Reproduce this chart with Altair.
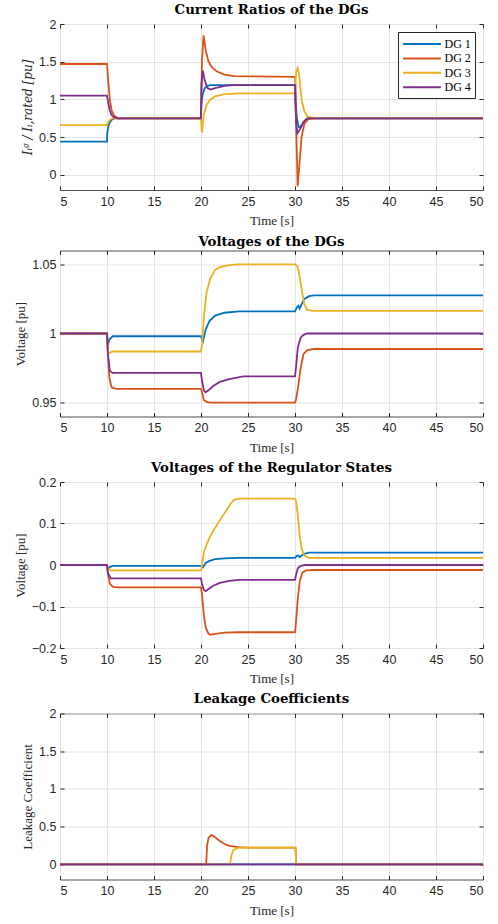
import altair as alt
import pandas as pd

SERIES = ["DG 1", "DG 2", "DG 3", "DG 4"]
COLORS = ["#0072BD", "#D95319", "#EDB120", "#7E2F8E"]

# ---- Panel 1: current ratios ----
p1_t1 = [5, 10, 10.02, 10.15, 10.3, 10.5, 10.8, 20, 20.05, 20.2, 20.4, 20.7, 21, 30, 30.05, 30.2, 30.4, 30.6, 30.9, 31.3, 50]
p1_v1 = [0.44, 0.44, 0.55, 0.65, 0.7, 0.73, 0.75, 0.75, 0.95, 1.08, 1.15, 1.18, 1.19, 1.19, 1.0, 0.75, 0.63, 0.64, 0.7, 0.75, 0.75]
p1_t2 = [5, 10, 10.1, 10.3, 10.5, 10.8, 11.2, 20, 20.1, 20.27, 20.5, 20.8, 21.2, 21.7, 22.5, 23.5, 30, 30.05, 30.15, 30.28, 30.45, 30.7, 31, 31.4, 32, 50]
p1_v2 = [1.47, 1.47, 1.3, 1.0, 0.85, 0.78, 0.75, 0.75, 1.5, 1.85, 1.65, 1.5, 1.42, 1.37, 1.33, 1.31, 1.30, 1.2, 0.5, -0.15, 0.1, 0.5, 0.68, 0.74, 0.75, 0.75]
p1_t3 = [5, 10, 10.05, 10.3, 10.6, 20, 20.05, 20.1, 20.3, 20.6, 21, 21.5, 22.5, 24, 30, 30.05, 30.15, 30.28, 30.45, 30.7, 31, 31.3, 32, 50]
p1_v3 = [0.66, 0.66, 0.68, 0.73, 0.75, 0.75, 0.62, 0.56, 0.8, 0.93, 1.0, 1.04, 1.07, 1.08, 1.08, 1.25, 1.38, 1.42, 1.32, 1.0, 0.84, 0.78, 0.755, 0.75]
p1_t4 = [5, 10, 10.1, 10.3, 10.5, 10.8, 11.2, 20, 20.05, 20.2, 20.4, 20.7, 21, 21.5, 22.5, 23.5, 30, 30.05, 30.15, 30.25, 30.6, 30.9, 31.3, 50]
p1_v4 = [1.05, 1.05, 0.98, 0.85, 0.79, 0.76, 0.75, 0.75, 1.2, 1.38, 1.25, 1.15, 1.13, 1.15, 1.18, 1.19, 1.19, 0.9, 0.65, 0.55, 0.62, 0.7, 0.75, 0.75]

# ---- Panel 2: voltages of the DGs ----
p2_t1 = [5, 10, 10.1, 10.3, 10.6, 20, 20.1, 20.2, 20.5, 20.9, 21.5, 22.5, 24, 30, 30.2, 30.35, 30.5, 30.7, 31, 31.5, 32, 50]
p2_v1 = [1.0, 1.0, 0.992, 0.996, 0.998, 0.998, 0.996, 0.994, 1.003, 1.009, 1.013, 1.015, 1.016, 1.016, 1.019, 1.020, 1.018, 1.021, 1.025, 1.027, 1.0275, 1.0275]
p2_t2 = [5, 10, 10.1, 10.25, 10.5, 11, 20, 20.1, 20.3, 20.6, 21, 30, 30.1, 30.3, 30.6, 30.9, 31.3, 32, 50]
p2_v2 = [1.0, 1.0, 0.985, 0.968, 0.961, 0.96, 0.96, 0.958, 0.952, 0.9505, 0.95, 0.95, 0.952, 0.96, 0.975, 0.985, 0.988, 0.9888, 0.9888]
p2_t3 = [5, 10, 10.1, 10.3, 10.6, 20, 20.1, 20.3, 20.6, 21, 21.5, 22, 23, 24, 30, 30.2, 30.4, 30.6, 30.8, 31, 31.3, 32, 50]
p2_v3 = [1.0, 1.0, 0.985, 0.986, 0.987, 0.987, 0.992, 1.012, 1.03, 1.04, 1.046, 1.048, 1.0495, 1.05, 1.05, 1.049, 1.045, 1.037, 1.028, 1.021, 1.017, 1.0163, 1.0163]
p2_t4 = [5, 10, 10.1, 10.3, 10.6, 20, 20.1, 20.3, 20.5, 20.8, 21.3, 22, 23, 24.5, 30, 30.1, 30.3, 30.6, 30.9, 31.3, 32, 50]
p2_v4 = [1.0, 1.0, 0.985, 0.973, 0.9715, 0.9715, 0.966, 0.959, 0.9575, 0.959, 0.962, 0.965, 0.967, 0.969, 0.969, 0.975, 0.99, 0.997, 0.999, 1.0, 1.0, 1.0]

# ---- Panel 3: regulator states ----
p3_t1 = [5, 10, 10.1, 10.3, 10.6, 20, 20.1, 20.2, 20.5, 20.9, 21.5, 22.5, 24, 30, 30.2, 30.35, 30.5, 30.7, 31, 31.5, 32, 50]
p3_v1 = [0, 0, -0.01, -0.005, -0.002, -0.002, -0.004, -0.006, 0.005, 0.01, 0.014, 0.016, 0.017, 0.017, 0.022, 0.023, 0.019, 0.023, 0.027, 0.03, 0.03, 0.03]
p3_t2 = [5, 10, 10.1, 10.3, 10.6, 11, 20, 20.1, 20.3, 20.5, 20.8, 21, 21.5, 22.5, 24, 30, 30.1, 30.3, 30.5, 30.8, 31.2, 32, 50]
p3_v2 = [0, 0, -0.02, -0.045, -0.052, -0.054, -0.054, -0.07, -0.12, -0.15, -0.166, -0.168, -0.166, -0.163, -0.162, -0.162, -0.14, -0.08, -0.04, -0.018, -0.013, -0.012, -0.012]
p3_t3 = [5, 10, 10.1, 10.4, 20, 20.1, 20.3, 20.6, 21, 21.5, 22, 22.5, 23, 23.5, 24, 30, 30.1, 30.3, 30.5, 30.7, 31, 31.5, 50]
p3_v3 = [0, 0, -0.008, -0.013, -0.013, 0.0, 0.03, 0.05, 0.07, 0.09, 0.107, 0.125, 0.143, 0.157, 0.16, 0.16, 0.155, 0.12, 0.07, 0.04, 0.022, 0.017, 0.017]
p3_t4 = [5, 10, 10.1, 10.4, 20, 20.1, 20.3, 20.5, 20.8, 21.3, 22, 23, 24, 30, 30.1, 30.3, 30.6, 31, 50]
p3_v4 = [0, 0, -0.02, -0.032, -0.032, -0.045, -0.06, -0.063, -0.058, -0.05, -0.043, -0.038, -0.036, -0.036, -0.025, -0.008, -0.002, 0, 0]

# ---- Panel 4: leakage coefficients ----
p4_t1 = [5, 50]
p4_v1 = [0, 0]
p4_t2 = [5, 20.55, 20.65, 20.8, 21.1, 21.5, 22, 22.5, 23, 24, 25, 30.05, 30.12, 50]
p4_v2 = [0, 0, 0.25, 0.35, 0.39, 0.36, 0.31, 0.27, 0.245, 0.228, 0.222, 0.222, 0, 0]
p4_t3 = [5, 23.1, 23.2, 23.4, 23.7, 24, 24.5, 30.05, 30.12, 50]
p4_v3 = [0, 0, 0.1, 0.18, 0.21, 0.218, 0.222, 0.222, 0, 0]
p4_t4 = [5, 50]
p4_v4 = [0, 0]

X_TICKS = [5, 10, 15, 20, 25, 30, 35, 40, 45, 50]

SERIF = "Liberation Serif"
SANS = "Liberation Sans"
W, H = 423, 166


def frame(pairs):
    rows = []
    for name, (ts, vs) in zip(SERIES, pairs):
        for t, v in zip(ts, vs):
            rows.append({"t": t, "v": v, "DG": name})
    return pd.DataFrame(rows)


def tick_axis(values, orient, offset):
    return alt.Axis(values=values, orient=orient, offset=offset, labels=False, title=None,
                    grid=False, domain=False, ticks=True, tickSize=4, tickColor="#262626",
                    tickWidth=1)


def panel(pairs, title, ytitle, domain, yticks, yfont=SERIF, ysize=13, ystyle="normal"):
    df = frame(pairs)
    xs = alt.Scale(domain=[5, 50], nice=False)
    ys = alt.Scale(domain=domain, nice=False, zero=False)
    main = (
        alt.Chart(df)
        .mark_line(strokeWidth=1.8, clip=True)
        .encode(
            x=alt.X("t:Q", scale=xs,
                    axis=alt.Axis(values=X_TICKS, title="Time [s]", format="",
                                  titlePadding=7, labelPadding=5)),
            y=alt.Y("v:Q", scale=ys,
                    axis=alt.Axis(values=yticks, title=ytitle, format="", titleFont=yfont,
                                  titleFontSize=ysize, titleFontStyle=ystyle)),
            color=alt.Color("DG:N", scale=alt.Scale(domain=SERIES, range=COLORS),
                            legend=alt.Legend(title=None, orient="top-right", offset=8)),
        )
    )
    # inward tick marks on the bottom/left edges
    ticks_a = (
        alt.Chart(df).mark_line(opacity=0)
        .encode(x=alt.X("t:Q", scale=xs, axis=tick_axis(X_TICKS, "top", -H)),
                y=alt.Y("v:Q", scale=ys, axis=tick_axis(yticks, "right", -W)))
    )
    # inward tick marks on the top/right edges
    ticks_b = (
        alt.Chart(df).mark_line(opacity=0)
        .encode(x=alt.X("t:Q", scale=xs, axis=tick_axis(X_TICKS, "bottom", -H)),
                y=alt.Y("v:Q", scale=ys, axis=tick_axis(yticks, "left", -W)))
    )
    return (
        alt.layer(main, ticks_a, ticks_b,
                  title=alt.Title(title, font="DejaVu Serif", fontSize=13.3, fontWeight="bold",
                                  color="black", offset=2))
        .resolve_axis(x="independent", y="independent")
        .properties(width=W, height=H)
    )


c1 = panel([(p1_t1, p1_v1), (p1_t2, p1_v2), (p1_t3, p1_v3), (p1_t4, p1_v4)],
           "Current Ratios of the DGs", "Iᵢᵍ / Iᵢ,rated [pu]", [-0.2, 2], [0, 0.5, 1, 1.5, 2],
           yfont="DejaVu Serif", ysize=12, ystyle="italic")
c2 = panel([(p2_t1, p2_v1), (p2_t2, p2_v2), (p2_t3, p2_v3), (p2_t4, p2_v4)],
           "Voltages of the DGs", "Voltage [pu]", [0.94, 1.06], [0.95, 1, 1.05])
c3 = panel([(p3_t1, p3_v1), (p3_t2, p3_v2), (p3_t3, p3_v3), (p3_t4, p3_v4)],
           "Voltages of the Regulator States", "Voltage [pu]", [-0.2, 0.2], [-0.2, -0.1, 0, 0.1, 0.2])
c4 = panel([(p4_t1, p4_v1), (p4_t2, p4_v2), (p4_t3, p4_v3), (p4_t4, p4_v4)],
           "Leakage Coefficients", "Leakage Coefficient", [-0.2, 2], [0, 0.5, 1, 1.5, 2])

chart = (
    alt.vconcat(c1, c2, c3, c4, spacing=5.5)
    .resolve_scale(color="shared", x="independent", y="independent")
    .properties(padding={"left": 13, "top": 2, "right": 10, "bottom": 2}, background="white")
    .configure_view(stroke="#4d4d4d", strokeWidth=1)
    .configure_axis(
        grid=True, gridColor="#e4e4e4", gridWidth=1,
        domain=False, ticks=False,
        labelFont=SANS, labelFontSize=12.5, labelColor="#262626", labelPadding=4,
        titleFont=SERIF, titleFontSize=13, titleFontWeight="normal", titleColor="#262626",
        titlePadding=4,
    )
    .configure_legend(
        labelFont=SERIF, labelFontSize=12, labelColor="black",
        symbolType="M -2.7 0 L 2.7 0", symbolSize=196, symbolStrokeWidth=2,
        symbolOffset=12, labelOffset=14.5,
        strokeColor="#262626", fillColor="white", padding=4, rowPadding=0.4,
        cornerRadius=0,
    )
)

chart.save("out.html", embed_options={"renderer": "svg", "actions": False})
